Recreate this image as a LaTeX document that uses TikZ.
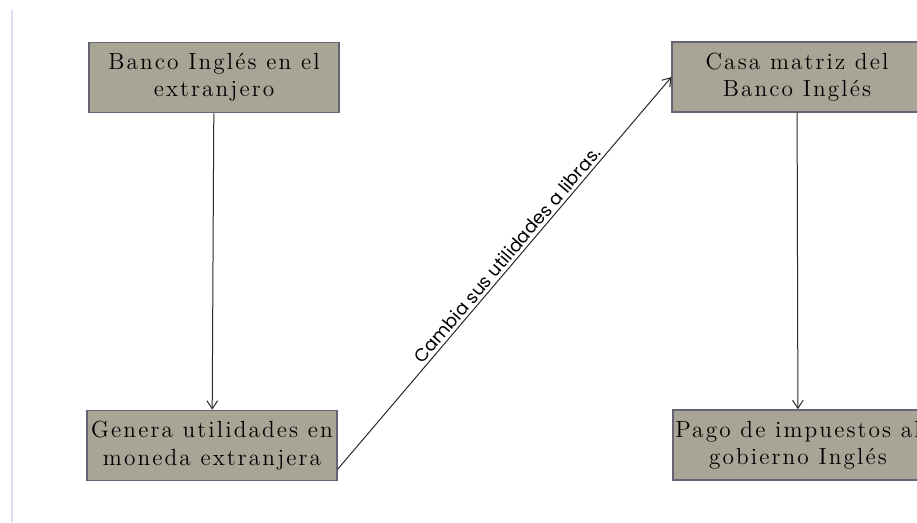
\documentclass[tikz,border=0pt]{standalone}
\usepackage{fontspec}
\newfontfamily\labelfont{Poppins}
\newfontfamily\boxfont{lmroman12-regular.otf}[LetterSpace=9]
\usetikzlibrary{arrows.meta}
\definecolor{boxfill}{RGB}{168,165,150}
\definecolor{boxline}{RGB}{100,100,116}
\definecolor{sidebar}{RGB}{221,224,238}
\definecolor{arrowgray}{RGB}{40,40,40}

\begin{document}
\begin{tikzpicture}[x=0.75pt,y=-0.75pt,line width=0.75pt,
  >={Straight Barb[length=6pt,width=8pt]},
  bankbox/.style={draw=boxline,fill=boxfill,line width=1.3pt,
    minimum width=187pt,minimum height=52.5pt,align=center,inner sep=0pt,
    font=\boxfont\fontsize{17.5pt}{20.5pt}\selectfont},
  flow/.style={->,draw=arrowgray}]
\useasboundingbox (0,0) rectangle (917,522);
% ---- left margin rule ----
\draw[sidebar,line width=1.5pt] (12,10) -- (12,522);
% ---- boxes ----
\node[bankbox] (abroad) at (214,77.5) {Banco Inglés en el\\extranjero};
\node[bankbox] (profit) at (212,445.5) {Genera utilidades en\\moneda extranjera};
\node[bankbox] (head)   at (797,77)   {Casa matriz del\\Banco Inglés};
\node[bankbox] (tax)    at (798,445)  {Pago de impuestos al\\gobierno Inglés};
% ---- connectors ----
\draw[flow] (abroad) -- (profit);
\draw[flow] (head) -- (tax);
\draw[flow] ([yshift=9pt]profit.south east) -- (head.west)
  node[pos=0.53,sloped,above,inner sep=2pt,font=\labelfont\fontsize{13.5pt}{15pt}\selectfont]
  {Cambia sus utilidades a libras.};
\end{tikzpicture}
\end{document}
